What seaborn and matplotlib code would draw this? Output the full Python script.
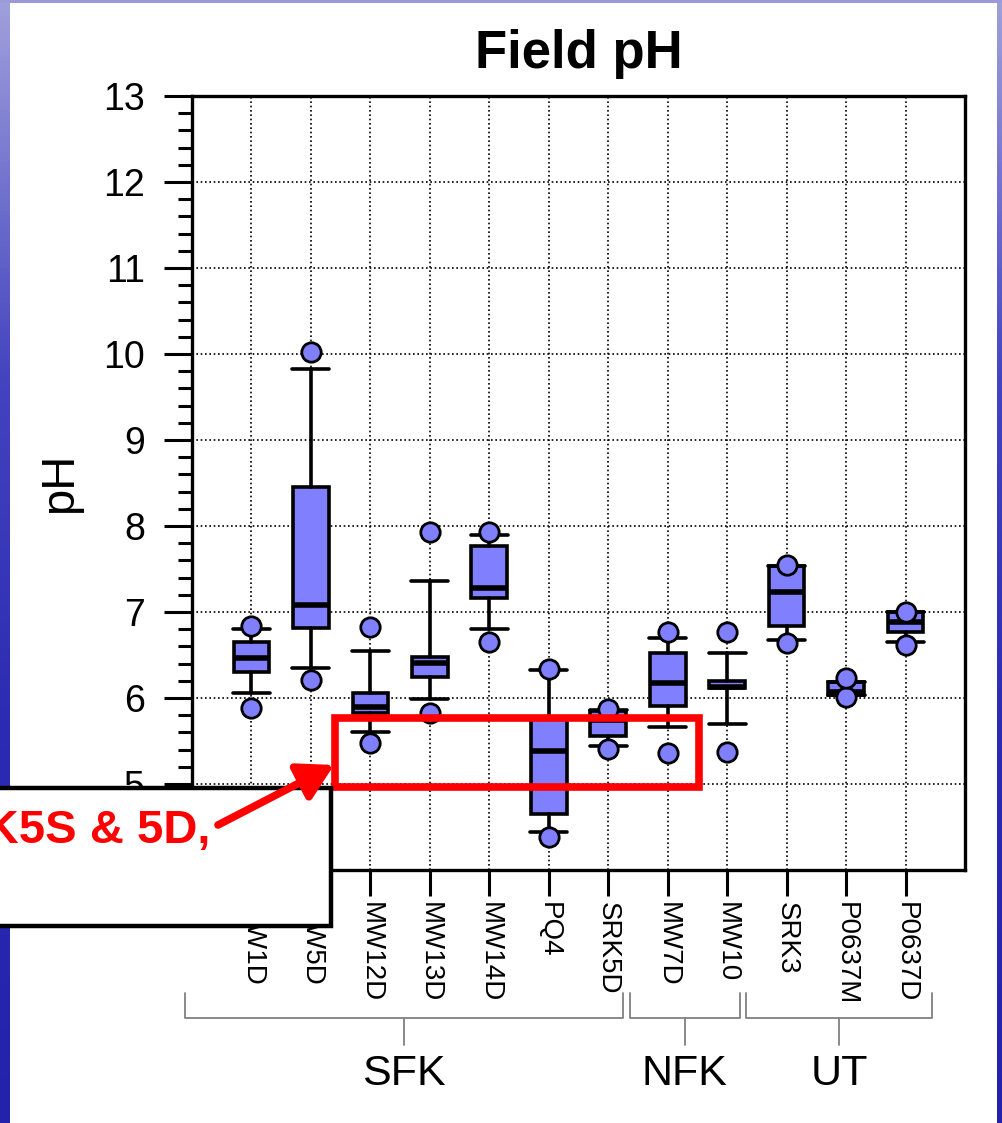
import numpy as np
import pandas as pd
import matplotlib
matplotlib.use("Agg")
import matplotlib.pyplot as plt
import matplotlib.transforms as mtransforms
from matplotlib.patches import Rectangle, FancyArrowPatch
from matplotlib.colors import LinearSegmentedColormap
from matplotlib.ticker import MultipleLocator
import seaborn as sns

# site data (pH)
sites = ["MW1D", "MW5D", "MW12D", "MW13D", "MW14D", "PQ4", "SRK5D",
         "MW7D", "MW10", "SRK3", "P0637M", "P0637D"]
group_names = ["SFK", "NFK", "UT"]
ph_min = [5.88, 6.21, 5.48, 5.83, 6.65, 4.38, 5.41, 5.36, 5.37, 6.64, 6.01, 6.62]
ph_p10 = [6.06, 6.35, 5.60, 5.99, 6.80, 4.44, 5.44, 5.66, 5.70, 6.67, 6.04, 6.65]
ph_q1 = [6.30, 6.81, 5.83, 6.25, 7.16, 4.65, 5.56, 5.91, 6.12, 6.84, 6.04, 6.77]
ph_med = [6.47, 7.08, 5.90, 6.41, 7.28, 5.38, 5.75, 6.17, 6.13, 7.23, 6.07, 6.88]
ph_q3 = [6.65, 8.45, 6.06, 6.48, 7.77, 5.78, 5.85, 6.52, 6.20, 7.53, 6.19, 7.00]
ph_p90 = [6.80, 9.83, 6.55, 7.36, 7.90, 6.33, 5.86, 6.70, 6.52, 7.53, 6.19, 7.00]
ph_max = [6.84, 10.02, 6.83, 7.93, 7.93, 6.34, 5.87, 6.77, 6.77, 7.55, 6.23, 7.00]

W, H = 1003, 1123
BOX = "#8080ff"

sns.set_theme(style="ticks")
plt.rcParams['font.family'] = ['Liberation Sans', 'DejaVu Sans']
plt.rcParams.update({"text.color": "black", "axes.labelcolor": "black",
                     "xtick.color": "black", "ytick.color": "black"})

fig = plt.figure(figsize=(W / 100, H / 100), dpi=100)
fig.patch.set_facecolor("white")

# slide background strips
bg = fig.add_axes([0, 0, 1, 1], zorder=-10)
slide = LinearSegmentedColormap.from_list("slide", ["#a0a0dc", "#4444c0", "#2a2ab2", "#2222ac"])
grad = np.linspace(0, 1, 256)[:, None]
bg.imshow(grad, extent=(0, 10, H, 0), cmap=slide, aspect="auto")
bg.imshow(grad, extent=(997, W, H, 0), cmap=slide, aspect="auto")
bg.add_patch(Rectangle((0, 0), W, 3, color="#9a9ad8", lw=0))
bg.set_xlim(0, W)
bg.set_ylim(H, 0)
bg.axis("off")

ax = fig.add_axes([192 / W, 1 - 870 / H, (965 - 192) / W, (870 - 96) / H])
ax.set_facecolor("white")

pos = np.arange(len(sites))
stats = []
for i in range(len(sites)):
    stats.append(dict(whislo=ph_p10[i], q1=ph_q1[i], med=ph_med[i], q3=ph_q3[i],
                      whishi=ph_p90[i], fliers=[]))

ax.bxp(stats, positions=pos, widths=0.6, capwidths=0.62, patch_artist=True,
       showfliers=False, manage_ticks=False, zorder=3,
       boxprops=dict(facecolor=BOX, edgecolor="black", linewidth=2.6),
       whiskerprops=dict(color="black", linewidth=2.6),
       capprops=dict(color="black", linewidth=2.6),
       medianprops=dict(color="black", linewidth=4))

pts = pd.DataFrame({"pos": np.concatenate([pos, pos]), "pH": ph_min + ph_max})
sns.scatterplot(data=pts, x="pos", y="pH", s=195, color=BOX, edgecolor="black",
                linewidth=2, zorder=4, ax=ax, legend=False)

ax.set_xlim(-1, 12)
ax.set_ylim(4, 13)
ax.yaxis.set_major_locator(MultipleLocator(1))
ax.yaxis.set_minor_locator(MultipleLocator(0.2))
ax.set_xticks(pos)
ax.set_xticklabels(sites, rotation=-90, ha="center", va="top")
ax.set_axisbelow(True)
ax.grid(True, which="major", color="black", linestyle=(0, (1, 1.6)), linewidth=1.2)
for sp in ax.spines.values():
    sp.set_color("black")
    sp.set_linewidth(2.4)
ax.tick_params(axis="y", which="major", length=20, width=2.2, labelsize=27, pad=14)
ax.tick_params(axis="y", which="minor", length=10, width=2.2, left=True)
ax.tick_params(axis="x", which="major", length=19, width=2.2, labelsize=20, pad=4)
ax.set_xlabel("")
ax.set_ylabel("pH", fontsize=34, labelpad=15)
ax.set_title("Field pH", fontsize=38, fontweight="bold", pad=20)

# group brackets under the site labels
trans = mtransforms.blended_transform_factory(ax.transData, fig.transFigure)
bracket_spans = [(-1.11, 6.24), (6.37, 8.21), (8.31, 11.45)]
y_top, y_mid, y_bot, y_lab = 1 - 993 / H, 1 - 1018 / H, 1 - 1045 / H, 1 - 1085 / H
for name, (a, b) in zip(group_names, bracket_spans):
    c = (a + b) / 2
    ax.plot([a, a, b, b], [y_top, y_mid, y_mid, y_top], transform=trans,
            clip_on=False, color="#808080", lw=1.3)
    ax.plot([c, c], [y_mid, y_bot], transform=trans, clip_on=False, color="#808080", lw=1.3)
    ax.text(c, y_lab, name, transform=trans, ha="center", va="baseline", fontsize=31)

ax.set_xlim(-1, 12)
ax.set_ylim(4, 13)

# highlight box
ax.add_patch(Rectangle((1.40, 4.97), 6.13, 0.80, fill=False, ec="red", lw=5.5,
                       clip_on=False, zorder=6))

# callout
fig.add_artist(Rectangle((-20 / W, 1 - 925.5 / H), 351 / W, (925.5 - 788) / H,
                         transform=fig.transFigure, fc="white", ec="black", lw=3.2, zorder=10))
fig.text(210 / W, 1 - 843 / H, "SRK5S & 5D,", color="red", fontsize=34,
         fontweight="bold", ha="right", va="baseline", zorder=11)
fig.add_artist(FancyArrowPatch((218 / W, 1 - 825 / H), (334 / W, 1 - 765 / H),
                               transform=fig.transFigure,
                               arrowstyle="-|>,head_length=0.7,head_width=0.4",
                               mutation_scale=30, lw=5.5, color="red",
                               shrinkA=0, shrinkB=0, zorder=12))

fig.savefig("out.png", dpi=100)
